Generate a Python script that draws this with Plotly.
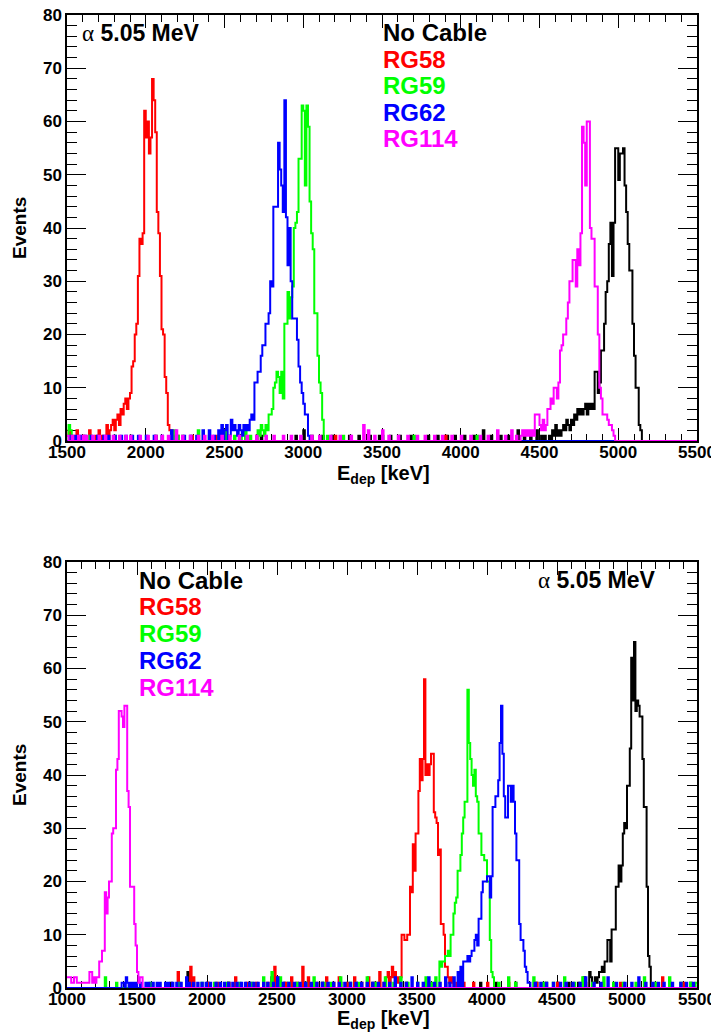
import plotly.graph_objects as go

W, H = 711, 1034
BIN = 10

# ---------------- TOP PANEL DATA (1500-5500 keV) ----------------
top_range = [1500, 5500]

top_black_start = 4560
top_black_peak = [1, 0, 2, 1, 3, 1, 2, 1, 2, 3, 2, 4, 3, 2, 4, 3, 5, 4, 6, 5, 6, 5, 6, 7, 5, 7, 6, 7, 6,
                  13, 13, 9, 11, 17, 17, 22, 28, 30, 37, 41, 31, 41, 55, 55, 49, 54, 54, 55, 48, 43, 37,
                  32, 32, 22, 16, 10, 10, 3, 2]
top_black_noise_e = [2060, 2730, 2950, 3000, 3050, 3120, 3180, 3290, 3350, 3420, 3480, 3550, 3610, 3680,
                     3790, 3850, 3910, 3960, 4020, 4080, 4140, 4190, 4250, 4300, 4360, 4400, 4440, 4480,
                     4510, 4530]
top_black_noise_c = [1, 1, 1, 2, 1, 1, 1, 1, 1, 1, 1, 1, 1, 1, 1, 1, 1, 1, 1, 1, 2, 1, 1, 1, 2, 1, 1, 2, 1, 1]

top_red_start = 1780
top_red_peak = [3, 4, 2, 4, 5, 3, 6, 5, 7, 8, 6, 8, 9, 14, 15, 20, 22, 31, 38, 37, 39, 62, 57, 60, 54, 57,
                68, 64, 58, 43, 39, 31, 21, 20, 12, 9, 3, 2, 2]
top_red_noise_e = [1500, 1510, 1530, 1560, 1600, 1640, 1680, 1700, 1720, 1750, 1770, 2200, 2290, 2450, 2700, 3200, 3900]
top_red_noise_c = [1, 2, 1, 2, 1, 2, 1, 2, 1, 3, 2, 1, 1, 1, 1, 1, 1]

top_green_start = 2710
top_green_peak = [2, 1, 3, 2, 1, 3, 2, 5, 5, 6, 10, 11, 13, 12, 9, 13, 8, 22, 22, 28, 23, 27, 29, 40, 41,
                  43, 53, 53, 63, 62, 48, 63, 59, 45, 39, 36, 24, 24, 16, 11, 9, 4]
top_green_noise_e = [1510, 1520, 1640, 1800, 1900, 2180, 2200, 2230, 2330, 2400, 2460, 2500, 2520, 2560,
                     2600, 2630, 2660, 3150, 3250, 3500, 3700, 4100]
top_green_noise_c = [3, 2, 1, 1, 1, 2, 1, 1, 2, 1, 1, 2, 1, 1, 1, 2, 1, 1, 1, 1, 1, 1]

top_blue_start = 2570
top_blue_peak = [2, 1, 3, 2, 1, 3, 2, 3, 2, 4, 5, 4, 11, 11, 13, 13, 16, 18, 18, 22, 22, 24, 30, 29, 44,
                 44, 44, 56, 51, 48, 43, 64, 42, 33, 40, 30, 23, 23, 23, 19, 14, 11, 9, 7, 5, 5, 1]
top_blue_noise_e = [1520, 1550, 1580, 1610, 1650, 1690, 1730, 1760, 1800, 1840, 1870, 1910, 1950, 2000,
                    2050, 2100, 2160, 2190, 2240, 2280, 2320, 2360, 2400, 2430, 2460, 2480, 2500, 2510,
                    2530, 2540, 2550, 2560]
top_blue_noise_c = [1, 1, 1, 1, 1, 1, 1, 1, 1, 1, 1, 1, 1, 1, 1, 1, 2, 1, 1, 1, 1, 2, 2, 1, 2, 3, 2, 3,
                    1, 4, 2, 3]

top_magenta_start = 4380
top_magenta_peak = [1, 2, 1, 2, 1, 2, 1, 2, 1, 5, 5, 5, 3, 2, 4, 2, 3, 6, 6, 8, 7, 10, 10, 8, 11, 17, 18,
                    20, 20, 23, 26, 30, 30, 34, 34, 29, 36, 33, 39, 59, 56, 48, 60, 60, 40, 38, 38, 29,
                    29, 20, 10, 8, 5, 5, 5, 4, 3, 3, 2, 1]
top_magenta_noise_e = [1500, 1530, 1570, 1600, 1620, 1660, 1700, 1740, 1790, 1830, 1870, 1900, 1960, 2010,
                       2060, 2100, 2140, 2190, 2230, 2280, 2330, 2370, 2420, 2480, 2530, 2590, 2640, 2700,
                       2760, 2810, 2870, 2920, 2980, 3050, 3100, 3170, 3230, 3300, 3380, 3410, 3450, 3500,
                       3540, 3600, 3660, 3720, 3770, 3830, 3880, 3940, 4000, 4060, 4120, 4170, 4230, 4280,
                       4320, 4350]
top_magenta_noise_c = [1, 1, 1, 1, 1, 1, 1, 1, 1, 1, 1, 1, 1, 1, 1, 1, 1, 2, 1, 1, 1, 1, 1, 1, 1, 1, 1, 1,
                       1, 1, 1, 1, 1, 1, 1, 1, 1, 1, 3, 2, 1, 2, 1, 1, 1, 1, 1, 1, 1, 1, 1, 1, 1, 1, 2, 1,
                       2, 1]

# ---------------- BOTTOM PANEL DATA (1000-5500 keV) ----------------
bot_range = [1000, 5500]

bot_black_start = 4730
bot_black_peak = [3, 2, 1, 1, 2, 1, 2, 3, 3, 4, 3, 5, 5, 9, 9, 5, 11, 11, 11, 19, 19, 23, 20, 23, 29, 31,
                  30, 38, 38, 45, 62, 54, 65, 52, 54, 53, 51, 51, 43, 34, 34, 19, 6, 4]
bot_black_noise_e = [1740, 1860, 2000, 2150, 2300, 2460, 2550, 2700, 2820, 2950, 3060, 3180, 3300, 3420,
                     3560, 3700, 3820, 3950, 4060, 4200, 4350, 4420, 4500, 4580, 4650, 4690, 5300, 5450]
bot_black_noise_c = [1, 3, 1, 1, 1, 2, 1, 1, 1, 1, 1, 1, 2, 1, 1, 1, 1, 1, 1, 1, 1, 1, 1, 1, 1, 2, 1, 1]

bot_red_start = 3280
bot_red_peak = [2, 3, 1, 2, 4, 2, 3, 1, 2, 1, 2, 10, 10, 9, 9, 10, 10, 19, 18, 27, 22, 29, 29, 37, 43, 39,
                43, 58, 40, 42, 40, 42, 44, 44, 33, 32, 31, 25, 26, 12, 12, 10, 4, 4, 2, 1, 2, 1]
bot_red_noise_e = [1790, 1880, 1900, 2000, 2070, 2150, 2200, 2280, 2350, 2430, 2480, 2500, 2560, 2600,
                   2640, 2680, 2720, 2780, 2850, 2900, 2940, 3000, 3050, 3100, 3150, 3200, 3230, 3260,
                   3780, 3830, 3900, 4000, 4150, 4350, 4500, 4700, 4950, 5250, 5400]
bot_red_noise_c = [3, 4, 2, 1, 1, 1, 2, 1, 1, 1, 4, 2, 1, 2, 1, 4, 2, 1, 2, 1, 2, 1, 2, 1, 2, 1, 3, 1,
                   1, 1, 1, 1, 1, 1, 1, 1, 1, 2, 1]

bot_green_start = 3660
bot_green_peak = [5, 4, 5, 5, 6, 6, 7, 6, 10, 10, 14, 16, 17, 22, 22, 25, 29, 32, 35, 35, 56, 46, 43, 40,
                  38, 41, 36, 35, 29, 29, 25, 25, 24, 24, 20, 20, 9, 3, 2]
bot_green_noise_e = [1270, 1350, 1590, 1800, 1960, 2050, 2140, 2230, 2320, 2400, 2460, 2520, 2580, 2640,
                     2700, 2760, 2830, 2880, 2950, 3020, 3080, 3140, 3200, 3270, 3330, 3380, 3430, 3500,
                     3560, 3600, 3630, 4080, 4150, 4200, 4330, 4400, 4470, 4550, 4620, 4680, 4750, 4830,
                     4900, 4970, 5060, 5120, 5200, 5300, 5380, 5450, 5490]
bot_green_noise_c = [2, 1, 1, 1, 1, 1, 1, 1, 1, 2, 3, 2, 1, 1, 1, 2, 1, 1, 2, 1, 1, 2, 1, 2, 1, 2, 1, 1,
                     2, 1, 2, 1, 2, 1, 2, 1, 1, 2, 1, 2, 1, 2, 1, 1, 1, 2, 1, 2, 1, 1, 1]

bot_blue_start = 3830
bot_blue_peak = [5, 5, 5, 6, 5, 6, 7, 7, 9, 10, 8, 13, 13, 18, 20, 20, 20, 21, 21, 17, 21, 34, 34, 36, 36,
                 39, 46, 53, 44, 36, 32, 32, 38, 38, 35, 38, 35, 29, 24, 24, 12, 9, 9, 7, 4, 3, 1]
bot_blue_noise_e = [1390, 1400, 1420, 1430, 1450, 1470, 1490, 1520, 1560, 1580, 1610, 1640, 1660, 1700,
                    1720, 1750, 1780, 1810, 1850, 1870, 1900, 1930, 1960, 1990, 2020, 2060, 2090, 2120,
                    2150, 2180, 2210, 2240, 2270, 2300, 2330, 2360, 2400, 2430, 2470, 2500, 2540, 2580,
                    2620, 2660, 2700, 2740, 2780, 2820, 2860, 2900, 2940, 2980, 3020, 3060, 3100, 3140,
                    3180, 3220, 3260, 3300, 3340, 3380, 3420, 3460, 3500, 3540, 3580, 3620, 3660, 3700,
                    3730, 3760, 3790, 3810, 4300, 4340, 4380, 4420, 4470, 4520, 4560, 4610, 4660, 4700,
                    4760, 4810, 4860, 4920, 4980, 5030, 5080, 5130, 5180, 5220, 5260, 5320, 5380, 5420,
                    5470]
bot_blue_noise_c = [1, 1, 2, 1, 1, 1, 1, 1, 1, 1, 1, 1, 1, 1, 1, 1, 1, 1, 2, 1, 1, 1, 1, 1, 1, 1, 1, 1,
                    1, 1, 1, 1, 1, 1, 1, 1, 1, 1, 1, 2, 1, 1, 1, 1, 1, 1, 1, 1, 1, 1, 1, 1, 1, 1, 1, 1,
                    1, 1, 1, 1, 2, 1, 1, 2, 1, 1, 2, 1, 1, 2, 1, 2, 3, 4, 1, 1, 1, 1, 1, 1, 1, 1, 1, 2,
                    1, 1, 2, 1, 1, 1, 2, 1, 1, 1, 1, 1, 1, 1, 1]

bot_magenta_start = 1000
bot_magenta_peak = [2, 2, 2, 1, 1, 2, 2, 1, 1, 1, 1, 1, 1, 1, 1, 1, 3, 3, 1, 2, 1, 2, 2, 5, 5, 7, 7, 18,
                    14, 17, 20, 20, 29, 30, 30, 41, 43, 52, 52, 51, 49, 53, 53, 37, 34, 19, 19, 19, 12, 8,
                    3, 1, 2, 2]
bot_magenta_noise_e = []
bot_magenta_noise_c = []

series_names = ["No Cable", "RG58", "RG59", "RG62", "RG114"]
series_colors = ["#000000", "#ff0000", "#00ff00", "#0000ff", "#ff00ff"]
alpha_label = "5.05 MeV"
x_title = "E<sub>dep</sub> [keV]"
y_title = "Events"


def build(rng, start, peak, noise_e, noise_c):
    lo, hi = rng
    n = int(round((hi - lo) / BIN))
    counts = [0] * n
    for e, c in zip(noise_e, noise_c):
        i = int(round((e - lo) / BIN))
        if 0 <= i < n:
            counts[i] = c
    i0 = int(round((start - lo) / BIN))
    for k, c in enumerate(peak):
        if 0 <= i0 + k < n:
            counts[i0 + k] = c
    edges = [lo + BIN * k for k in range(n + 1)]
    return edges, counts


top_sets = [
    (top_black_start, top_black_peak, top_black_noise_e, top_black_noise_c),
    (top_red_start, top_red_peak, top_red_noise_e, top_red_noise_c),
    (top_green_start, top_green_peak, top_green_noise_e, top_green_noise_c),
    (top_blue_start, top_blue_peak, top_blue_noise_e, top_blue_noise_c),
    (top_magenta_start, top_magenta_peak, top_magenta_noise_e, top_magenta_noise_c),
]
bot_sets = [
    (bot_black_start, bot_black_peak, bot_black_noise_e, bot_black_noise_c),
    (bot_red_start, bot_red_peak, bot_red_noise_e, bot_red_noise_c),
    (bot_green_start, bot_green_peak, bot_green_noise_e, bot_green_noise_c),
    (bot_blue_start, bot_blue_peak, bot_blue_noise_e, bot_blue_noise_c),
    (bot_magenta_start, bot_magenta_peak, bot_magenta_noise_e, bot_magenta_noise_c),
]

fig = go.Figure()


def add_hists(sets, rng, xa, ya):
    for (start, peak, ne, nc), name, col in zip(sets, series_names, series_colors):
        edges, counts = build(rng, start, peak, ne, nc)
        fig.add_trace(go.Scatter(
            x=edges, y=counts + [counts[-1]], mode="lines",
            line=dict(color=col, width=2, shape="hv"),
            xaxis=xa, yaxis=ya, showlegend=False, name=name, hoverinfo="skip"))


add_hists(top_sets, top_range, "x", "y")
add_hists(bot_sets, bot_range, "x2", "y2")

FONT = "Liberation Sans"
L, R = 67, 697
TOP_T, TOP_B = 15, 441
BOT_T, BOT_B = 562, 988


def px(x):
    return x / W


def py(y):
    return 1 - y / H


tickfont = dict(family=FONT, size=17, color="black", weight="bold")


def xaxis_cfg(rng, anchor):
    return dict(range=rng, domain=[px(L), px(R)], anchor=anchor, automargin=False,
                showline=True, linecolor="black", linewidth=1.5, mirror="ticks",
                ticks="inside", ticklen=13, tickwidth=1.2, tickcolor="black",
                tickvals=list(range(rng[0], rng[1] + 1, 500)),
                ticktext=[str(v) for v in range(rng[0], rng[1] + 1, 500)],
                ticklabeloverflow="allow", ticklabelstandoff=-5,
                tickfont=tickfont, showgrid=False, zeroline=False,
                minor=dict(ticks="inside", ticklen=7, dtick=100, tick0=rng[0], tickcolor="black",
                           tickwidth=1.2, showgrid=False),
                layer="below traces", fixedrange=True)


def yaxis_cfg(dom, anchor):
    return dict(range=[0, 80], domain=dom, anchor=anchor, automargin=False,
                showline=True, linecolor="black", linewidth=1.5, mirror="ticks",
                ticks="inside", ticklen=19, tickwidth=1.2, tickcolor="black",
                tick0=0, dtick=10, tickfont=tickfont, showgrid=False, zeroline=False,
                ticklabeloverflow="allow",
                minor=dict(ticks="inside", ticklen=10, dtick=2, tickcolor="black", tickwidth=1.2,
                           showgrid=False),
                layer="below traces", fixedrange=True)


fig.update_layout(
    width=W, height=H, margin=dict(l=0, r=0, t=0, b=0, autoexpand=False),
    paper_bgcolor="white", plot_bgcolor="white",
    xaxis=xaxis_cfg(top_range, "y"),
    yaxis=yaxis_cfg([py(TOP_B), py(TOP_T)], "x"),
    xaxis2=xaxis_cfg(bot_range, "y2"),
    yaxis2=yaxis_cfg([py(BOT_B), py(BOT_T)], "x2"),
    showlegend=False,
)

ann = []
lab_font = dict(family=FONT, size=24, weight="bold")
alpha_txt = '<span style="font-family:Liberation Serif;font-weight:normal">α</span> ' + alpha_label

# top panel texts
ann.append(dict(x=px(80), y=py(33), text=alpha_txt, xanchor="left", yanchor="middle",
                font=dict(lab_font, size=23, color="black")))
for i, (name, col) in enumerate(zip(series_names, series_colors)):
    ann.append(dict(x=px(381), y=py(33 + 26.5 * i), text=name, xanchor="left", yanchor="middle",
                    font=dict(lab_font, color=col)))
# bottom panel texts
ann.append(dict(x=px(658), y=py(580), text=alpha_txt, xanchor="right", yanchor="middle",
                font=dict(lab_font, size=23, color="black")))
for i, (name, col) in enumerate(zip(series_names, series_colors)):
    ann.append(dict(x=px(137), y=py(580 + 26.8 * i), text=name, xanchor="left", yanchor="middle",
                    font=dict(lab_font, color=col)))

title_font = dict(family=FONT, size=20, color="black", weight="bold")
for yc in [(TOP_T + TOP_B) / 2, (BOT_T + BOT_B) / 2]:
    ann.append(dict(x=px(19), y=py(yc), text=y_title, textangle=-90, xanchor="center", yanchor="middle",
                    font=dict(title_font, size=19)))
for yc in [474, 1019]:
    ann.append(dict(x=px(384), y=py(yc), text=x_title, xanchor="center", yanchor="middle",
                    font=title_font))

for a in ann:
    a.update(xref="paper", yref="paper", showarrow=False)
fig.update_layout(annotations=ann)

fig.write_html("out.html")
